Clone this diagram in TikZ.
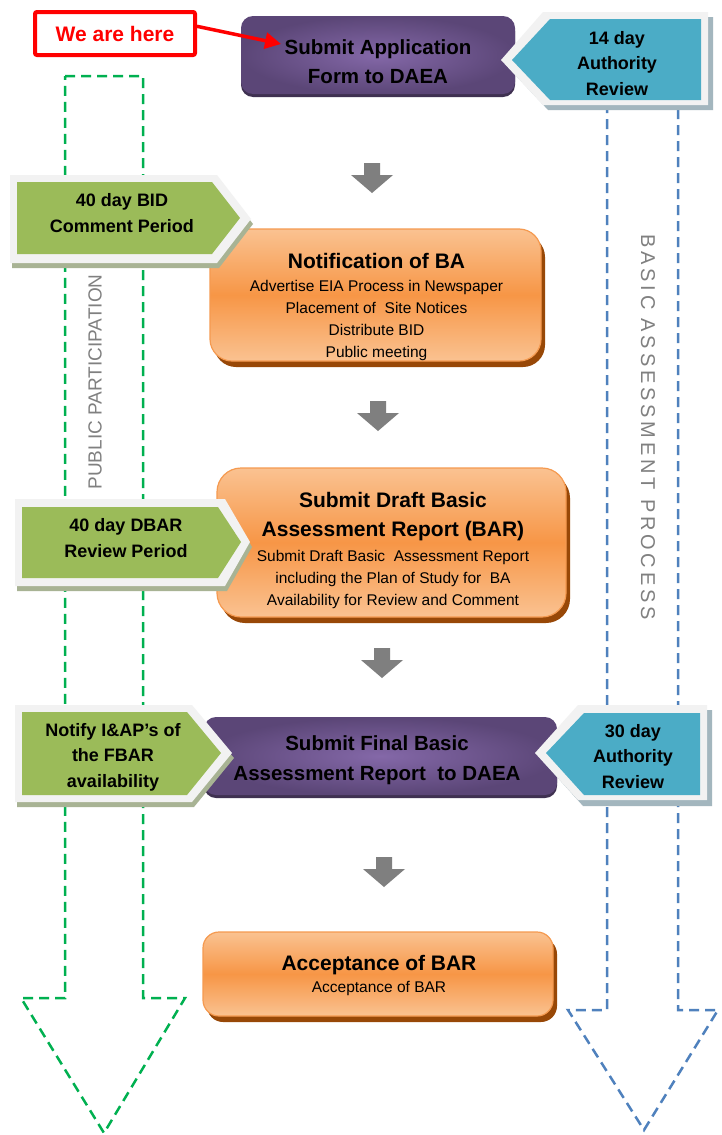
\documentclass[tikz,border=0pt]{standalone}
\usepackage{fontspec}
\setmainfont{Liberation Sans}
\newfontfamily\spacedfont[LetterSpace=19]{Liberation Sans}
\usetikzlibrary{arrows.meta,shadows}
\definecolor{purD}{HTML}{5B4677}
\definecolor{purL}{HTML}{8468A8}
\definecolor{purB}{HTML}{3F3151}
\definecolor{tealF}{HTML}{4BACC6}
\definecolor{tealS}{HTML}{A3B6BE}
\definecolor{bordL}{HTML}{F2F2F2}
\definecolor{grnF}{HTML}{9BBB59}
\definecolor{grnS}{HTML}{A8B394}
\definecolor{orL}{HTML}{FAC291}
\definecolor{orM}{HTML}{F79646}
\definecolor{orE}{HTML}{F59A50}
\definecolor{orS}{HTML}{984807}
\definecolor{arrG}{HTML}{7F7F7F}
\definecolor{dashG}{HTML}{00B050}
\definecolor{dashB}{HTML}{4F81BD}
\definecolor{txtG}{HTML}{808080}
\newcommand{\ttl}{\bfseries\fontsize{21}{29}\selectfont}
\newcommand{\bdy}{\mdseries\fontsize{15.5}{22}\selectfont}
\begin{document}
\begin{tikzpicture}[x=1pt,y=-1pt,
  gdash/.style={draw=dashG,line width=2.5pt,dash pattern=on 10pt off 6pt},
  bdash/.style={draw=dashB,line width=2.5pt,dash pattern=on 10pt off 6pt},
  vtext/.style={text=txtG,inner sep=0pt},
  orangebox/.style={rounded corners=22pt,top color=orL,bottom color=orL,middle color=orM,
     draw=orE,line width=1.2pt,inner sep=0pt,outer sep=0pt,
     drop shadow={shadow xshift=4pt,shadow yshift=-6pt,fill=orS,opacity=1}},
  purplebox/.style={rounded corners=12pt,shading=radial,inner color=purL,outer color=purD,
     inner sep=0pt,outer sep=0pt,
     drop shadow={shadow xshift=0pt,shadow yshift=-3pt,fill=purB,opacity=1}},
  boxtext/.style={align=center,inner sep=0pt,text=black},
  hdr/.style={font=\bfseries\fontsize{18}{25.5}\selectfont},
  downarrow/.pic={\fill[arrG] (-8,0) -- (8,0) -- (8,12) -- (21,12) -- (0,30) -- (-21,12) -- (-8,12) -- cycle;}
]
\fill[white] (0,0) rectangle (721,1135);
\useasboundingbox (0,0) rectangle (721,1135);

% dashed process arrows
\draw[gdash] (65,76) -- (143,76) -- (143,998) -- (185,998) -- (104,1133) -- (21,998) -- (65,998) -- cycle;
\draw[bdash] (607,100) -- (678,100) -- (678,1010) -- (718,1010) -- (644,1130) -- (568,1010) -- (607,1010) -- cycle;

% vertical labels
\node[vtext,rotate=90,font=\fontsize{19}{22}\selectfont] (pp) at (95,382) {PUBLIC PARTICIPATION};
\node[vtext,rotate=-90,font=\spacedfont\fontsize{20}{22}\selectfont] (bap) at (648,427) {BASIC ASSESSMENT PROCESS};

% gray step arrows
\pic at (372,163) {downarrow};
\pic at (378,401) {downarrow};
\pic at (382,648) {downarrow};
\pic at (384,857) {downarrow};

% Submit application
\node[purplebox,minimum width=274pt,minimum height=78pt] (p1) at (378,55) {};
\node[boxtext,font=\bfseries\fontsize{20.5}{29}\selectfont] (p1t) at (378,61.5) {Submit Application\\Form to DAEA};

% 14 day review
\fill[tealS] (506,65) -- (548,17) -- (713,17) -- (713,110) -- (548,110) -- cycle;
\fill[bordL] (501,60) -- (543,12) -- (708,12) -- (708,105) -- (543,105) -- cycle;
\fill[tealF] (512,60) -- (550,19) -- (701,19) -- (701,100) -- (550,100) -- cycle;
\node[boxtext,hdr] (t1t) at (617,63.5) {14 day\\Authority\\Review};

% Notification of BA
\node[orangebox,minimum width=331pt,minimum height=132pt] (o1) at (375.5,295) {};
\node[boxtext,font=\bdy] (o1t) at (376.5,306.5) {\ttl Notification of BA\\[1pt]
  Advertise EIA Process in Newspaper\\Placement of\ \ Site Notices\\Distribute BID\\Public meeting};

% 40 day BID
\fill[grnS] (12,180) -- (219,180) -- (253,224) -- (219,268) -- (12,268) -- cycle;
\fill[bordL] (10,175) -- (217,175) -- (251,219) -- (217,263) -- (10,263) -- cycle;
\fill[grnF] (17,182) -- (212,182) -- (240,218) -- (212,254) -- (17,254) -- cycle;
\node[boxtext,hdr] (g1t) at (122,213) {40 day BID\\Comment Period};

% Draft BAR
\node[orangebox,rounded corners=24pt,minimum width=349pt,minimum height=149pt] (o2) at (391.5,542.5) {};
\node[boxtext,font=\bdy] (o2t) at (393,550) {\ttl Submit Draft Basic\\[7pt]\ttl Assessment Report (BAR)\\[3pt]
  Submit Draft Basic\ \ Assessment Report\\including the Plan of Study for\ \ BA\\Availability for Review and Comment};

% 40 day DBAR
\fill[grnS] (17,504) -- (227,504) -- (252,547) -- (227,591) -- (17,591) -- cycle;
\fill[bordL] (15,499) -- (225,499) -- (250,542) -- (225,586) -- (15,586) -- cycle;
\fill[grnF] (22,507) -- (218,507) -- (241,542) -- (218,578) -- (22,578) -- cycle;
\node[boxtext,hdr] (g2t) at (126,538) {40 day DBAR\\Review Period};

% Final BAR
\node[purplebox,minimum width=353pt,minimum height=78pt] (p2) at (380.5,756) {};
\node[boxtext,font=\bfseries\fontsize{20.5}{30}\selectfont] (p2t) at (377,760) {Submit Final Basic\\Assessment Report\ \ to DAEA};

% Notify I&APs
\fill[grnS] (17,710) -- (194,710) -- (234,758) -- (194,807) -- (17,807) -- cycle;
\fill[bordL] (15,705) -- (192,705) -- (232,753) -- (192,802) -- (15,802) -- cycle;
\fill[grnF] (22,712) -- (187,712) -- (221,753) -- (187,795) -- (22,795) -- cycle;
\node[boxtext,hdr] (g3t) at (113,757) {Notify I\&AP’s of\\the FBAR\\availability};

% 30 day review
\fill[tealS] (540,758) -- (583,710) -- (712,710) -- (712,806) -- (583,806) -- cycle;
\fill[bordL] (535,753) -- (578,705) -- (707,705) -- (707,800) -- (578,800) -- cycle;
\fill[tealF] (546,753) -- (584,713) -- (700,713) -- (700,795) -- (584,795) -- cycle;
\node[boxtext,hdr] (t2t) at (633,756.5) {30 day\\Authority\\Review};

% Acceptance
\node[orangebox,rounded corners=16pt,minimum width=350pt,minimum height=84pt] (o3) at (378,974) {};
\node[boxtext,font=\bdy] (o3t) at (379,975.5) {\ttl Acceptance of BAR\\[0pt]Acceptance of BAR};

% We are here
\node[draw=red,line width=4pt,rounded corners=2pt,minimum width=160pt,minimum height=43pt,
  inner sep=0pt,text=red,font=\bfseries\fontsize{21}{24}\selectfont] (wh) at (115,33.5) {We are here};
\coordinate (whe) at (281,44);
\draw[red,line width=3.5pt,-{Triangle[length=16pt,width=16pt]}] (wh.5) -- (whe);
\end{tikzpicture}
\end{document}
